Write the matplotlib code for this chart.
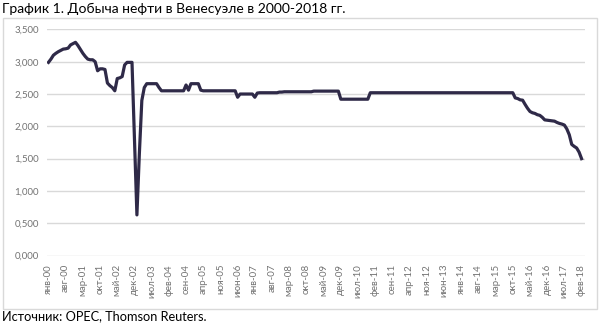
import matplotlib
matplotlib.use('Agg')
import matplotlib.pyplot as plt
from matplotlib.patches import Rectangle

plt.rcParams['font.family'] = ['Lato', 'Open Sans', 'DejaVu Sans']

## Oil production, mln bbl/day, monthly Jan 2000 - Feb 2018
prod_2000 = [2.990, 3.040, 3.100, 3.130, 3.155, 3.175, 3.195, 3.200, 3.210, 3.260, 3.280, 3.300]
prod_2001 = [3.250, 3.190, 3.130, 3.080, 3.040, 3.030, 3.030, 3.000, 2.860, 2.890, 2.890, 2.880]
prod_2002 = [2.670, 2.630, 2.600, 2.550, 2.740, 2.750, 2.770, 2.950, 2.990, 2.990, 2.990, 1.800]
prod_2003 = [0.630, 1.580, 2.400, 2.600, 2.660, 2.660, 2.660, 2.660, 2.660, 2.600, 2.550, 2.550]
prod_2004 = [2.550, 2.550, 2.550, 2.550, 2.550, 2.550, 2.550, 2.550, 2.640, 2.560, 2.660, 2.660]
prod_2005 = [2.660, 2.660, 2.560, 2.550, 2.550, 2.550, 2.550, 2.550, 2.550, 2.550, 2.550, 2.550]
prod_2006 = [2.550, 2.550, 2.550, 2.550, 2.550, 2.450, 2.500, 2.500, 2.500, 2.500, 2.500, 2.500]
prod_2007 = [2.450, 2.515, 2.520, 2.520, 2.520, 2.520, 2.520, 2.520, 2.520, 2.520, 2.530, 2.530]
prod_2008 = [2.535, 2.535, 2.535, 2.535, 2.535, 2.535, 2.535, 2.535, 2.535, 2.535, 2.535, 2.535]
prod_2009 = [2.545, 2.545, 2.545, 2.545, 2.545, 2.545, 2.545, 2.545, 2.545, 2.545, 2.545, 2.420]
prod_2010 = [2.420, 2.420, 2.420, 2.420, 2.420, 2.420, 2.420, 2.420, 2.420, 2.420, 2.420, 2.520]
prod_2011 = [2.520, 2.520, 2.520, 2.520, 2.520, 2.520, 2.520, 2.520, 2.520, 2.520, 2.520, 2.520]
prod_2012 = [2.520, 2.520, 2.520, 2.520, 2.520, 2.520, 2.520, 2.520, 2.520, 2.520, 2.520, 2.520]
prod_2013 = [2.520, 2.520, 2.520, 2.520, 2.520, 2.520, 2.520, 2.520, 2.520, 2.520, 2.520, 2.520]
prod_2014 = [2.520, 2.520, 2.520, 2.520, 2.520, 2.520, 2.520, 2.520, 2.520, 2.520, 2.520, 2.520]
prod_2015 = [2.520, 2.520, 2.520, 2.520, 2.520, 2.520, 2.520, 2.520, 2.520, 2.520, 2.440, 2.430]
prod_2016 = [2.410, 2.405, 2.340, 2.280, 2.230, 2.210, 2.200, 2.180, 2.170, 2.140, 2.100, 2.095]
prod_2017 = [2.090, 2.085, 2.080, 2.060, 2.045, 2.035, 2.020, 1.960, 1.870, 1.720, 1.690, 1.665]
prod_2018 = [1.600, 1.500]

production = (prod_2000 + prod_2001 + prod_2002 + prod_2003 + prod_2004 + prod_2005
              + prod_2006 + prod_2007 + prod_2008 + prod_2009 + prod_2010 + prod_2011
              + prod_2012 + prod_2013 + prod_2014 + prod_2015 + prod_2016 + prod_2017
              + prod_2018)

months_ru = ['янв', 'фев', 'мар', 'апр', 'май', 'июн',
             'июл', 'авг', 'сен', 'окт', 'ноя', 'дек']
start_year = 2000
label_step = 7
y_ticks = [0.0, 0.5, 1.0, 1.5, 2.0, 2.5, 3.0, 3.5]

title = 'График 1. Добыча нефти в Венесуэле в 2000-2018 гг.'
source = 'Источник: OPEC, Thomson Reuters.'

line_color = '#2f2a48'
grid_color = '#d9d9d9'
label_color = '#737373'

W, H = 600, 325
fig = plt.figure(figsize=(W / 100, H / 100), dpi=100)

## outer chart frame
fig.patches.append(Rectangle((3 / W, 1 - 309 / H), 594 / W, 291 / H,
                             transform=fig.transFigure, fill=False,
                             edgecolor=grid_color, linewidth=1.0))

ax = fig.add_axes([47 / W, 1 - 255.6 / H, 538 / W, 226.2 / H])
x = list(range(len(production)))
ax.plot(x, production, color=line_color, linewidth=2.3, solid_joinstyle='round',
        zorder=3)

ax.set_xlim(-0.6, 218.4)
ax.set_ylim(0, 3.5)
ax.set_yticks(y_ticks)
ax.set_yticklabels([f'{v:.3f}'.replace('.', ',') for v in y_ticks],
                   fontsize=7, color=label_color)

tick_pos = list(range(0, len(production), label_step))
tick_lab = [f'{months_ru[i % 12]}-{(start_year + i // 12) % 100:02d}' for i in tick_pos]
ax.set_xticks(tick_pos)
ax.set_xticklabels(tick_lab, rotation=90, fontsize=7, color=label_color)

ax.tick_params(length=0, pad=6)
ax.yaxis.grid(True, color=grid_color, linewidth=1.0, zorder=0)
ax.set_axisbelow(True)
for s in ax.spines.values():
    s.set_visible(False)

fig.text(2 / W, 1 - 9 / H, title, fontsize=10, color='black', va='center', ha='left')
fig.text(2 / W, 1 - 316 / H, source, fontsize=9.2, color='black', va='center', ha='left')

fig.savefig('out.png', dpi=100)
